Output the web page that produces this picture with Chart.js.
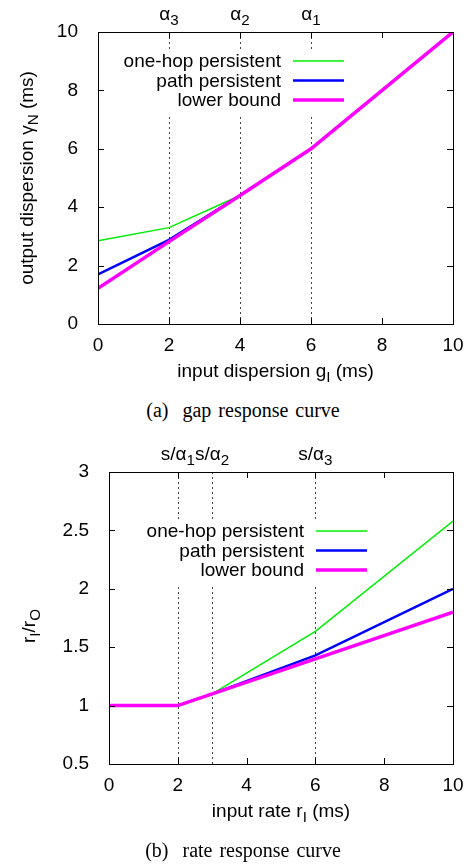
<!DOCTYPE html>
<html>
<head>
<meta charset="utf-8">
<script src="https://cdn.jsdelivr.net/npm/chart.js@4.4.1/dist/chart.umd.min.js"></script>
<style>
  body { margin: 0; background: #fff; width: 473px; height: 865px; position: relative; overflow: hidden; }
  canvas { position: absolute; left: 0; }
  #gap { top: 0; }
  #rate { top: 430px; }
  .caption { position: absolute; left: 0; width: 486px; text-align: center; line-height: 22px;
             font: 20px "Liberation Serif", serif; word-spacing: 2px; color: #000; }
</style>
</head>
<body>
<canvas id="gap" width="473" height="395"></canvas>
<canvas id="rate" width="473" height="435"></canvas>
<div class="caption" style="top:399px">(a)&nbsp; gap response curve</div>
<div class="caption" style="top:839px">(b)&nbsp; rate response curve</div>
<script>
// Series names (shared by both plots)
const seriesNames = ['one-hop persistent', 'path persistent', 'lower bound'];

// (a) gap response curve
const inputGap = [0, 2, 4, 6, 10];
const gapOneHop = [2.85, 3.3, 4.4, 6, 10];
const gapPath = [1.7, 2.88, 4.4, 6, 10];
const gapLower = [1.22, 2.82, 4.4, 6, 10];
const gapMarks = [2, 4, 6];
const gapMarkLabels = ['α_{3}', 'α_{2}', 'α_{1}'];

// (b) rate response curve
const inputRate = [0, 2, 3, 6, 10];
const rateOneHop = [1, 1, 1.1, 1.635, 2.58];
const ratePath = [1, 1, 1.1, 1.43, 2.0];
const rateLower = [1, 1, 1.1, 1.4, 1.8];
const rateMarks = [2, 3, 6];
const rateMarkLabels = ['s/α_{1}', 's/α_{2}', 's/α_{3}'];

const FONT = '"Liberation Sans", Arial, sans-serif';
const SIZE = 19;

// Draw text with _{...} subscripts
function drawRich(ctx, str, x, y, align) {
  const parts = str.split(/_\{([^}]*)\}/);
  const fontOf = (i) => (i % 2 ? SIZE * 0.8 : SIZE) + 'px ' + FONT;
  let w = 0;
  parts.forEach((p, i) => { ctx.font = fontOf(i); w += ctx.measureText(p).width; });
  let cx = align === 'center' ? x - w / 2 : align === 'right' ? x - w : x;
  ctx.textAlign = 'left';
  ctx.textBaseline = 'middle';
  ctx.fillStyle = '#000';
  parts.forEach((p, i) => {
    ctx.font = fontOf(i);
    ctx.fillText(p, cx, i % 2 ? y + SIZE * 0.3 : y);
    cx += ctx.measureText(p).width;
  });
}

// gnuplot-like frame, inward ticks, dotted markers, key and labels
const gnuFrame = {
  id: 'gnuFrame',
  beforeDatasetsDraw(chart, args, o) {
    const ctx = chart.ctx;
    const a = chart.chartArea;
    const xs = chart.scales.x;
    ctx.save();
    ctx.strokeStyle = '#444';
    ctx.lineWidth = 1;
    ctx.setLineDash([2, 3]);
    o.marks.forEach((m) => {
      const px = Math.round(xs.getPixelForValue(m)) + 0.5;
      ctx.beginPath();
      ctx.moveTo(px, a.top);
      ctx.lineTo(px, a.bottom);
      ctx.stroke();
    });
    ctx.setLineDash([]);
    // opaque key box
    const k = o.key;
    const lx2 = a.right - k.right;
    ctx.font = SIZE + 'px ' + FONT;
    const tw = ctx.measureText(seriesNames[0]).width;
    ctx.fillStyle = '#fff';
    ctx.fillRect(lx2 - 51 - 12 - tw - 4, a.top + k.top - 12, tw + 51 + 12 + 8, 19.5 * 2 + 26);
    ctx.restore();
  },
  afterDatasetsDraw(chart, args, o) {
    const ctx = chart.ctx;
    const a = chart.chartArea;
    const k = o.key;
    const lx2 = a.right - k.right;
    ctx.save();
    chart.data.datasets.forEach((ds, i) => {
      const y = a.top + k.top + i * 19.5;
      ctx.strokeStyle = ds.borderColor;
      ctx.lineWidth = ds.borderWidth;
      ctx.beginPath();
      ctx.moveTo(lx2 - 51, y);
      ctx.lineTo(lx2, y);
      ctx.stroke();
      ctx.font = SIZE + 'px ' + FONT;
      ctx.fillStyle = '#000';
      ctx.textAlign = 'right';
      ctx.textBaseline = 'middle';
      ctx.fillText(ds.label, lx2 - 63, y + 1);
    });
    ctx.restore();
  },
  afterDraw(chart, args, o) {
    const ctx = chart.ctx;
    const a = chart.chartArea;
    const xs = chart.scales.x;
    const ys = chart.scales.y;
    ctx.save();
    // frame
    ctx.strokeStyle = '#000';
    ctx.lineWidth = 1;
    ctx.strokeRect(Math.round(a.left) + 0.5, Math.round(a.top) + 0.5,
      Math.round(a.right - a.left), Math.round(a.bottom - a.top));
    // inward ticks on all four sides
    ctx.beginPath();
    xs.ticks.forEach((t) => {
      const px = Math.round(xs.getPixelForValue(t.value)) + 0.5;
      ctx.moveTo(px, a.bottom); ctx.lineTo(px, a.bottom - 6);
      ctx.moveTo(px, a.top); ctx.lineTo(px, a.top + 6);
    });
    ys.ticks.forEach((t) => {
      const py = Math.round(ys.getPixelForValue(t.value)) + 0.5;
      ctx.moveTo(a.left, py); ctx.lineTo(a.left + 6, py);
      ctx.moveTo(a.right, py); ctx.lineTo(a.right - 6, py);
    });
    ctx.stroke();
    // marker labels above the plot
    o.marks.forEach((m, i) => {
      drawRich(ctx, o.markLabels[i], xs.getPixelForValue(m), a.top - 17, 'center');
    });
    // axis titles
    drawRich(ctx, o.xTitle, (a.left + a.right) / 2, a.bottom + 48, 'center');
    ctx.translate(o.yTitleX, (a.top + a.bottom) / 2 + o.yTitleShift);
    ctx.rotate(-Math.PI / 2);
    drawRich(ctx, o.yTitle, 0, 0, 'center');
    ctx.restore();
  },
};

function makeChart(id, xs, series, cfg) {
  const colors = ['#00ee00', '#0000ff', '#ff00ff'];
  const widths = [1.5, 2.5, 3.5];
  return new Chart(document.getElementById(id), {
    type: 'line',
    plugins: [gnuFrame],
    data: {
      datasets: series.map((vals, i) => ({
        label: seriesNames[i],
        data: xs.map((x, j) => ({ x: x, y: vals[j] })),
        borderColor: colors[i],
        borderWidth: widths[i],
        pointRadius: 0,
        tension: 0,
        order: 3 - i,
      })),
    },
    options: {
      responsive: false,
      animation: false,
      layout: { padding: { top: cfg.top, right: 20, left: 0, bottom: 0 } },
      plugins: {
        legend: { display: false },
        tooltip: { enabled: false },
        gnuFrame: cfg.frame,
      },
      scales: {
        x: {
          type: 'linear',
          min: 0, max: 10,
          grid: { display: false },
          border: { display: false },
          ticks: { stepSize: 2, padding: 2, color: '#000', font: { family: FONT, size: SIZE } },
          afterFit: (s) => { s.height = cfg.xHeight; },
        },
        y: {
          min: cfg.yMin, max: cfg.yMax,
          grid: { display: false },
          border: { display: false },
          ticks: {
            stepSize: cfg.yStep, padding: 12, color: '#000', font: { family: FONT, size: SIZE },
            callback: (v) => String(+v.toFixed(1)),
          },
          afterFit: (s) => { s.width = cfg.yWidth; },
        },
      },
    },
  });
}

// (a) gap response
makeChart('gap', inputGap, [gapOneHop, gapPath, gapLower], {
  top: 32, xHeight: 71, yWidth: 98, yMin: 0, yMax: 10, yStep: 2,
  frame: {
    marks: gapMarks, markLabels: gapMarkLabels,
    key: { right: 109, top: 29 },
    xTitle: 'input dispersion g_{I} (ms)',
    yTitle: 'output dispersion γ_{N} (ms)',
    yTitleX: 28, yTitleShift: 0,
  },
});

// (b) rate response
makeChart('rate', inputRate, [rateOneHop, ratePath, rateLower], {
  top: 42, xHeight: 101, yWidth: 109, yMin: 0.5, yMax: 3, yStep: 0.5,
  frame: {
    marks: rateMarks, markLabels: rateMarkLabels,
    key: { right: 86, top: 59 },
    xTitle: 'input rate r_{I} (ms)',
    yTitle: 'r_{I}/r_{O}',
    yTitleX: 30, yTitleShift: 8,
  },
});
</script>
</body>
</html>
